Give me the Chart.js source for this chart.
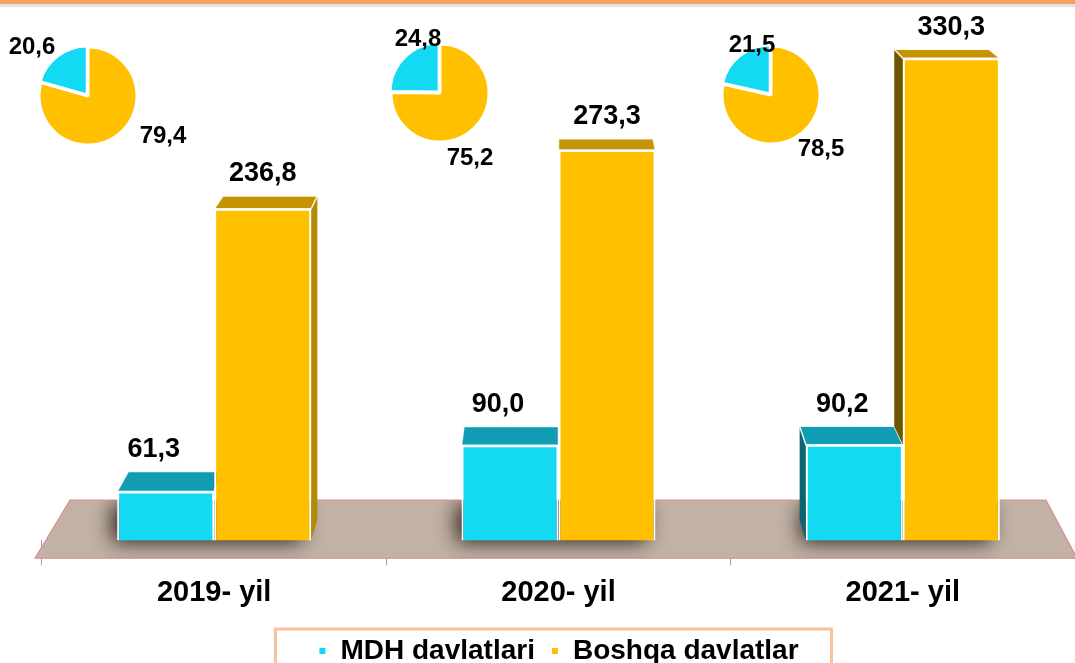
<!DOCTYPE html>
<html>
<head>
<meta charset="utf-8">
<script src="https://cdn.jsdelivr.net/npm/chart.js@4.4.1/dist/chart.umd.min.js"></script>
<style>
  html, body { margin: 0; padding: 0; background: #fff; overflow: hidden; }
  #wrap { position: relative; width: 1075px; height: 663px; overflow: hidden; }
  #main { position: absolute; left: 0; top: 0; }
  .pie { position: absolute; }
  #topline { position: absolute; left: 0; top: 0; width: 1075px; height: 4px; background: #f5a35a; border-bottom: 3px solid #e3e3e3; }
</style>
</head>
<body>
<div id="wrap">
  <canvas id="main" width="1075" height="675"></canvas>
  <canvas id="pie0" class="pie" width="240" height="180" style="left:-32px;top:6px"></canvas>
  <canvas id="pie1" class="pie" width="240" height="180" style="left:320px;top:3px"></canvas>
  <canvas id="pie2" class="pie" width="240" height="180" style="left:651px;top:5px"></canvas>
  <div id="topline"></div>
</div>
<script>
// data
const categories = ['2019- yil', '2020- yil', '2021- yil'];
const seriesNames = ['MDH davlatlari', 'Boshqa davlatlar'];
const mdhValues = [61.3, 90.0, 90.2];
const boshqaValues = [236.8, 273.3, 330.3];
const mdhShares = [20.6, 24.8, 21.5];
const boshqaShares = [79.4, 75.2, 78.5];

const CYAN = '#14d9f3';
const GOLD = '#ffc000';
const topColors = ['#109db3', '#c49500'];
const leftSideColors = ['#0b6470', '#6e5600'];
const rightSideColors = ['#0c8496', '#b38a00'];
const FONT = "Arial, 'Liberation Sans', sans-serif";

Chart.defaults.font.family = FONT;
Chart.defaults.color = '#000';

function fmt(v) {
  return v.toFixed(1).replace('.', ',');
}

function poly(ctx, pts, color) {
  ctx.beginPath();
  ctx.moveTo(pts[0][0], pts[0][1]);
  for (let i = 1; i < pts.length; i++) ctx.lineTo(pts[i][0], pts[i][1]);
  ctx.closePath();
  ctx.fillStyle = color;
  ctx.fill();
}

// floor, shadows and the top / side faces of the bars
const bars3d = {
  id: 'bars3d',
  beforeDatasetsDraw(chart) {
    const ctx = chart.ctx;
    const a = chart.chartArea;
    const base = a.bottom;
    const vx = (a.left + a.right) / 2, vy = -300, k = 0.025;
    const back = (x, y) => [x + (vx - x) * k, y + (vy - y) * k];
    const m0 = chart.getDatasetMeta(0).data;
    const m1 = chart.getDatasetMeta(1).data;

    ctx.save();
    ctx.beginPath();
    ctx.moveTo(a.left - 7, base + 18);
    ctx.lineTo(a.left + 28, base - 40);
    ctx.lineTo(a.right - 29, base - 40);
    ctx.lineTo(a.right + 2, base + 18);
    ctx.closePath();
    ctx.fillStyle = '#c2b2a6';
    ctx.fill();
    ctx.strokeStyle = '#d88f8f';
    ctx.lineWidth = 1.2;
    ctx.stroke();
    ctx.clip();
    m0.forEach((b0, i) => {
      const b1 = m1[i];
      const l = b0.x - b0.width / 2, r = b1.x + b1.width / 2;
      ctx.save();
      ctx.shadowColor = 'rgba(40,28,20,0.95)';
      ctx.shadowBlur = 20;
      ctx.shadowOffsetX = -7;
      ctx.shadowOffsetY = 4;
      ctx.fillStyle = '#5a4c42';
      ctx.fillRect(l + 2, base - 40, r - l - 4, 38);
      ctx.restore();
    });
    ctx.restore();

    ctx.save();
    [m0, m1].forEach((meta, di) => {
      meta.forEach((bar, i) => {
        const l = bar.x - bar.width / 2, r = bar.x + bar.width / 2, t = bar.y;
        const [blx, bty] = back(l, t);
        const [brx] = back(r, t);
        const other = di === 0 ? m1[i] : m0[i];
        if (r < vx && di === 1) {
          const [bbx, bby] = back(r, base);
          poly(ctx, [[r, t], [brx, bty], [bbx, bby], [r, base]], rightSideColors[di]);
        }
        if (l > vx) {
          let stop = base;
          if (di === 1) stop = other.y;
          if (stop > t) {
            const [sbx, sby] = back(l, stop);
            poly(ctx, [[l, t], [blx, bty], [sbx, sby], [l, stop]], leftSideColors[di]);
          }
        }
        poly(ctx, [[l, t], [r, t], [brx, bty], [blx, bty]], topColors[di]);
        ctx.strokeStyle = 'rgba(255,255,255,0.9)';
        ctx.lineWidth = 1.5;
        ctx.stroke();
      });
    });
    ctx.restore();
  },
  afterDatasetsDraw(chart) {
    const ctx = chart.ctx;
    const vy = -300, k = 0.025;
    ctx.save();
    ctx.font = 'bold 27px ' + FONT;
    ctx.fillStyle = '#000';
    ctx.textAlign = 'center';
    ctx.textBaseline = 'middle';
    chart.data.datasets.forEach((ds, di) => {
      chart.getDatasetMeta(di).data.forEach((bar, i) => {
        const bty = bar.y + (vy - bar.y) * k;
        ctx.fillText(fmt(ds.data[i]), bar.x + (di === 0 ? -12 : 0), bty - 22);
      });
    });
    ctx.restore();
  },
  afterDraw(chart) {
    const lg = chart.legend;
    const hb = lg.legendHitBoxes;
    if (!hb || !hb.length) return;
    const first = hb[0], last = hb[hb.length - 1];
    const ctx = chart.ctx;
    ctx.save();
    ctx.strokeStyle = '#f8c29c';
    ctx.lineWidth = 3;
    const x0 = first.left - 43, x1 = last.left + last.width + 33;
    ctx.strokeRect(x0, first.top - 8, x1 - x0, 80);
    ctx.restore();
  }
};

new Chart(document.getElementById('main'), {
  type: 'bar',
  data: {
    labels: categories,
    datasets: [
      {
        label: seriesNames[0],
        data: mdhValues,
        backgroundColor: CYAN,
        borderColor: '#ffffff',
        borderWidth: 2,
      },
      {
        label: seriesNames[1],
        data: boshqaValues,
        backgroundColor: GOLD,
        borderColor: '#ffffff',
        borderWidth: 2,
      },
    ],
  },
  options: {
    responsive: false,
    animation: false,
    categoryPercentage: 0.5635,
    barPercentage: 1,
    layout: { padding: { left: 42, right: 0, top: 20, bottom: 0 } },
    scales: {
      x: {
        border: { display: false },
        grid: { drawOnChartArea: false, drawTicks: true, tickLength: 25, color: '#a0a0a0' },
        ticks: { padding: 10.5, font: { size: 29, weight: 'bold' }, color: '#000' },
      },
      y: {
        display: false,
        min: 31,
        max: 354,
      },
    },
    plugins: {
      legend: {
        position: 'bottom',
        labels: {
          usePointStyle: true,
          pointStyle: 'rect',
          boxWidth: 8,
          boxHeight: 8,
          padding: 16,
          font: { size: 28, weight: 'bold' },
          color: '#000',
        },
      },
      tooltip: { enabled: false },
    },
  },
  plugins: [bars3d],
});

// small pies above each year
const pieLabelOffsets = [
  [[-56, -49], [75, 40]],
  [[-22, -54], [30, 65]],
  [[-19, -50], [50, 54]],
];

const pieLabels = {
  id: 'pieLabels',
  afterDatasetsDraw(chart, args, opts) {
    const ctx = chart.ctx;
    const arc = chart.getDatasetMeta(0).data[1];
    ctx.save();
    ctx.font = 'bold 24px ' + FONT;
    ctx.fillStyle = '#000';
    ctx.textAlign = 'center';
    ctx.textBaseline = 'middle';
    chart.data.datasets[0].data.forEach((v, i) => {
      const off = opts.offsets[i];
      ctx.fillText(fmt(v), arc.x + off[0], arc.y + off[1]);
    });
    ctx.restore();
  }
};

categories.forEach((c, i) => {
  new Chart(document.getElementById('pie' + i), {
    type: 'pie',
    data: {
      labels: seriesNames,
      datasets: [{
        data: [mdhShares[i], boshqaShares[i]],
        backgroundColor: [CYAN, GOLD],
        borderColor: '#ffffff',
        borderWidth: 3,
        offset: [5, 0],
      }],
    },
    options: {
      responsive: false,
      animation: false,
      radius: 49,
      rotation: -mdhShares[i] * 3.6,
      plugins: {
        legend: { display: false },
        tooltip: { enabled: false },
        pieLabels: { offsets: pieLabelOffsets[i] },
      },
    },
    plugins: [pieLabels],
  });
});
</script>
</body>
</html>
